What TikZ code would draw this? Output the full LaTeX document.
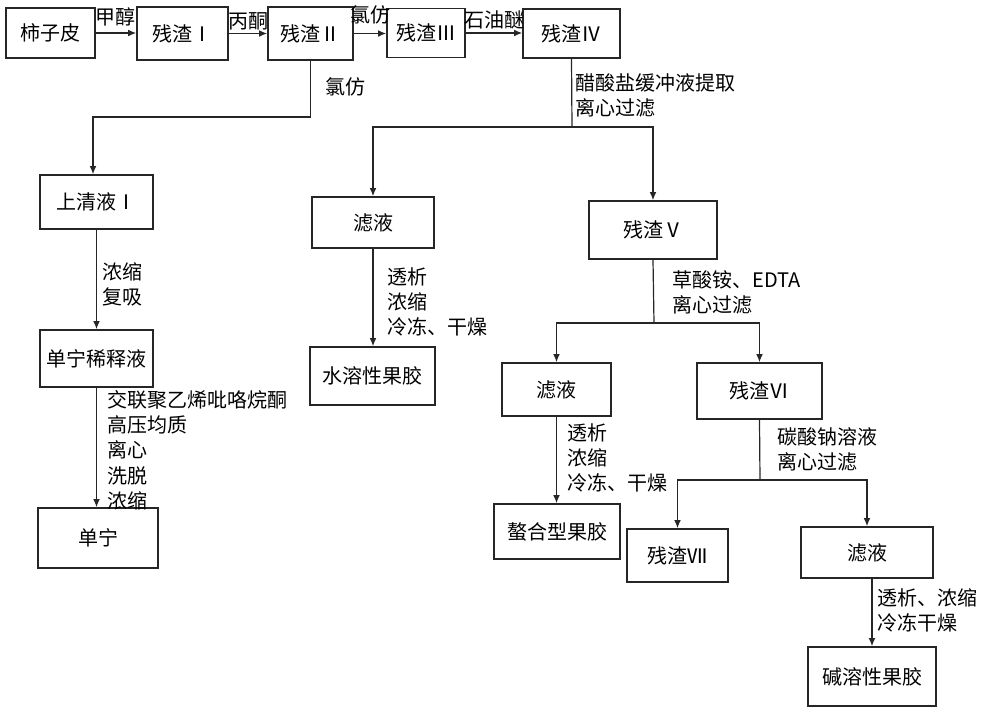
\documentclass[tikz,border=0pt]{standalone}
\usepackage{fontspec}
\setmainfont{Noto Sans CJK SC}
\usetikzlibrary{arrows.meta}
\begin{document}
\begin{tikzpicture}[x=0.75pt,y=-0.75pt,
  txt/.style={font=\fontsize{15pt}{19pt}\selectfont},
  bx/.style args={#1/#2}{draw=black!85, line width=1.2pt, inner sep=0pt, txt,
     minimum width=#1*0.75pt, minimum height=#2*0.75pt},
  ln/.style={draw=black!85, line width=0.9pt},
  arr/.style={ln, -{Latex[length=6pt,width=5pt]}},
  tl/.style={txt, inner sep=0pt},
  lb/.style={txt, anchor=north west, inner sep=0pt, align=left}]
\useasboundingbox (0,0) rectangle (1000,712);
% top row
\node[bx=89/50] (n1) at (50.5,33) {柿子皮};
\node[bx=91/53] (n2) at (182.5,33.5) {残渣Ⅰ};
\node[bx=85/53] (n3) at (310.5,33.5) {残渣Ⅱ};
\node[bx=78/49] (n4) at (426,33) {残渣Ⅲ};
\node[bx=97/49] (n5) at (571.5,33.5) {残渣Ⅳ};
% left branch
\node[bx=113/54] (s1) at (96.5,202) {上清液Ⅰ};
\node[bx=113/57] (d1) at (96.5,358.5) {单宁稀释液};
\node[bx=120/60] (t1) at (98,538) {单宁};
% middle
\node[bx=122/51] (f1) at (373,222.5) {滤液};
\node[bx=125/58] (w1) at (372.5,376) {水溶性果胶};
\node[bx=128/58] (r5) at (653,230) {残渣Ⅴ};
\node[bx=109/53] (f2) at (556.5,389.5) {滤液};
\node[bx=125/56] (r6) at (759.5,391) {残渣Ⅵ};
\node[bx=126/55] (c1) at (557,531.5) {螯合型果胶};
\node[bx=101/53] (r7) at (677.5,555.5) {残渣Ⅶ};
\node[bx=132/51] (f3) at (867,552.5) {滤液};
\node[bx=128/59] (a1) at (872,676.5) {碱溶性果胶};
% top arrows
\draw[arr] (n1.east) -- (n1.east -| n2.west);
\draw[arr] (n2.east) -- (n2.east -| n3.west);
\draw[arr] (n3.east) -- (n3.east -| n4.west);
\draw[arr] (n4.east) -- (n4.east -| n5.west);
\node[tl] (l1) at (115,17) {甲醇};
\node[tl] (l2) at (248,21) {丙酮};
\node[tl] (l3) at (370,15) {氯仿};
\node[tl] (l4) at (494,20) {石油醚};
% left branch connectors
\coordinate (k0) at (93,117);
\draw[arr] (n3.south) |- (k0) -- (k0 |- s1.north);
\draw[arr] (s1.south) -- (d1.north);
\draw[arr] (d1.south) -- (t1.north -| d1.south);
\node[lb] (l5) at (325,77) {氯仿};
\node[lb] (l6) at (102,262) {浓缩\\复吸};
\node[lb] (l7) at (107,390) {交联聚乙烯吡咯烷酮\\高压均质\\离心\\洗脱\\浓缩};
% right branch connectors
\coordinate (j1) at (572,127);
\draw[ln] (n5.south) -- (j1);
\draw[arr] (j1) -| (f1.north);
\draw[arr] (j1) -| (r5.north);
\draw[arr] (f1.south) -- (w1.north -| f1.south);
\coordinate (j2) at (654,323);
\draw[ln] (r5.south) -- (j2);
\draw[arr] (j2) -| (f2.north);
\draw[arr] (j2) -| (r6.north);
\draw[arr] (f2.south) -- (c1.north -| f2.south);
\coordinate (j3) at (760,480);
\draw[ln] (r6.south) -- (j3);
\draw[arr] (j3) -| (r7.north);
\draw[arr] (j3) -| (f3.north);
\draw[arr] (f3.south -| a1.north) -- (a1.north);
\node[lb] (l8) at (575,73) {醋酸盐缓冲液提取\\离心过滤};
\node[lb] (l9) at (387,267) {透析\\浓缩\\冷冻、干燥};
\node[lb] (l10) at (672,270) {草酸铵、EDTA\\离心过滤};
\node[lb] (l11) at (567,423) {透析\\浓缩\\冷冻、干燥};
\node[lb] (l12) at (777,427) {碳酸钠溶液\\离心过滤};
\node[lb] (l13) at (877,588) {透析、浓缩\\冷冻干燥};
\end{tikzpicture}
\end{document}
